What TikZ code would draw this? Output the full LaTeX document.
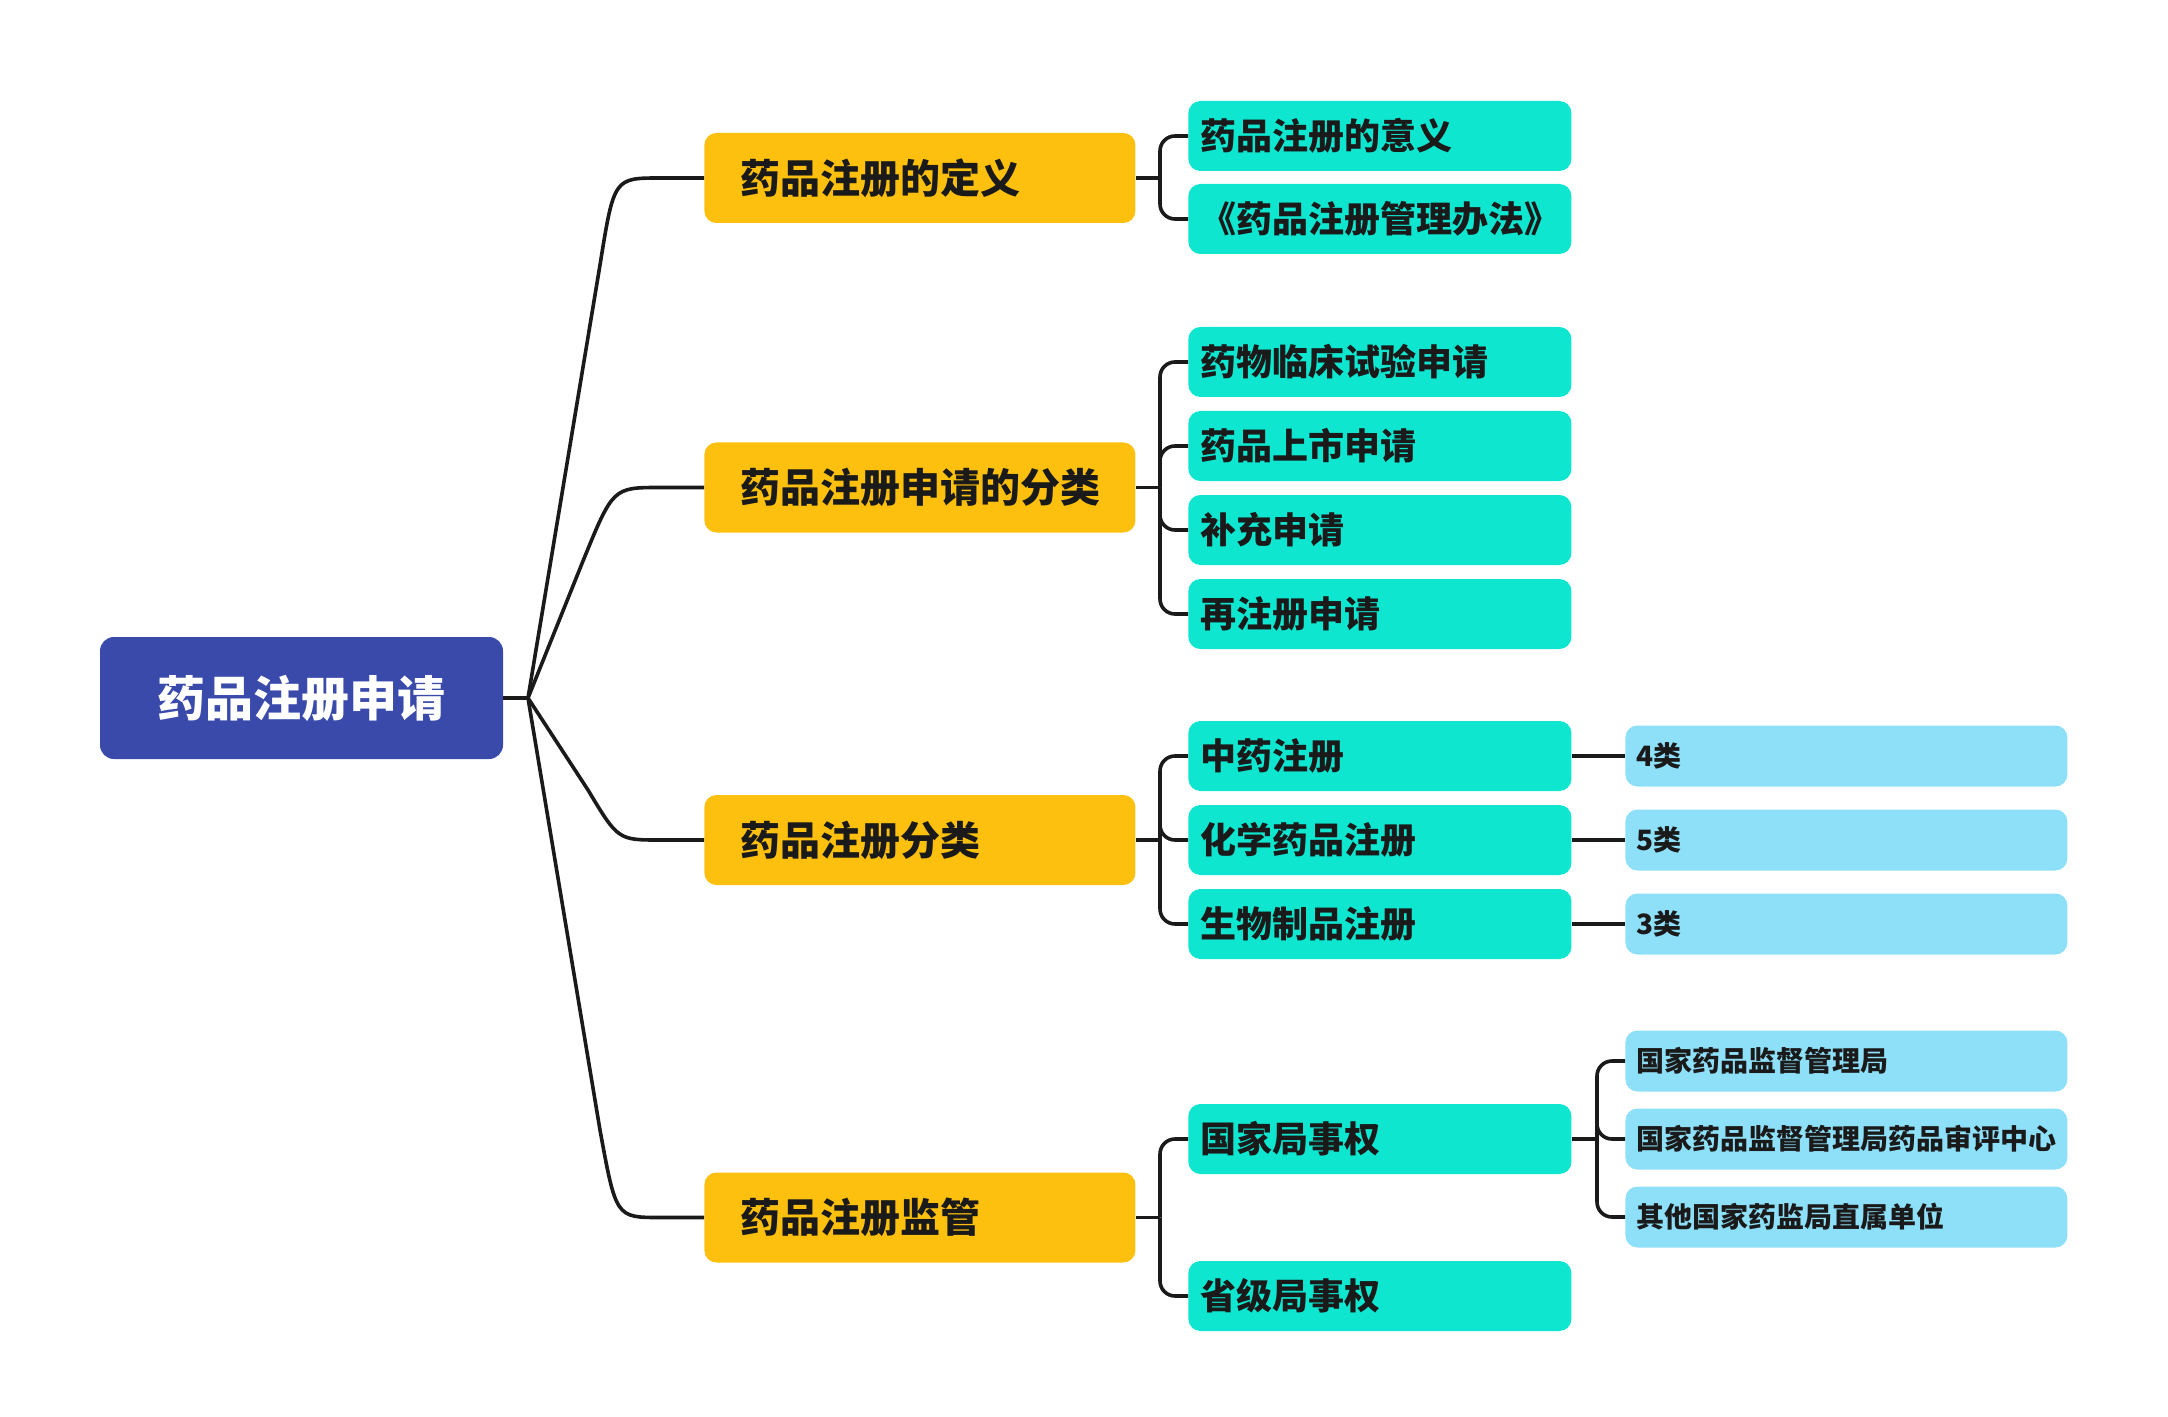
\documentclass[tikz,border=0pt]{standalone}
\usepackage{fontspec}
\setmainfont{Noto Sans CJK SC}
\definecolor{rootblue}{HTML}{3A4AAB}
\definecolor{orangebox}{HTML}{FDC00E}
\definecolor{cyanbox}{HTML}{0EE6D0}
\definecolor{lightbox}{HTML}{8EDFF8}
\definecolor{ink}{HTML}{1A1A1A}
\begin{document}
\begin{tikzpicture}[x=0.5pt,y=-0.5pt,
  rootbox/.style={fill=rootblue,rounded corners=7pt,minimum width=201.5pt,minimum height=61pt,
    inner sep=0pt,text=white,font=\bfseries\fontsize{24pt}{28pt}\selectfont},
  lone/.style={fill=orangebox,rounded corners=6pt,anchor=west,minimum height=45pt,
    inner xsep=18pt,inner ysep=0pt,text width=179.5pt,align=left,text=ink,
    font=\bfseries\fontsize{20pt}{24pt}\selectfont},
  ltwo/.style={fill=cyanbox,rounded corners=6pt,anchor=west,minimum height=35pt,
    inner xsep=6pt,inner ysep=0pt,text width=179.5pt,align=left,text=ink,
    font=\bfseries\fontsize{18pt}{22pt}\selectfont},
  lthree/.style={fill=lightbox,rounded corners=6pt,anchor=west,minimum height=30.5pt,
    inner xsep=5.5pt,inner ysep=0pt,text width=210pt,align=left,text=ink,
    font=\bfseries\fontsize{14pt}{17pt}\selectfont},
  link/.style={draw=ink,line width=1.8pt},
  bus/.style={draw=ink,line width=1.8pt,rounded corners=7.5pt}
]
\useasboundingbox (0,0) rectangle (2168,1417);

% root
\node[rootbox] (root) at (301.5,698) {药品注册申请};
\coordinate (J) at (528,698);

% level 1
\node[lone] (o1) at (704,178) {药品注册的定义};
\node[lone] (o2) at (704,487.5) {药品注册申请的分类};
\node[lone] (o3) at (704,840) {药品注册分类};
\node[lone] (o4) at (704,1217.5) {药品注册监管};

% level 2
\node[ltwo] (c1) at (1188,136) {药品注册的意义};
\node[ltwo] (c2) at (1188,219) {《药品注册管理办法》};
\node[ltwo] (c3) at (1188,362) {药物临床试验申请};
\node[ltwo] (c4) at (1188,446) {药品上市申请};
\node[ltwo] (c5) at (1188,530) {补充申请};
\node[ltwo] (c6) at (1188,614) {再注册申请};
\node[ltwo] (c7) at (1188,756) {中药注册};
\node[ltwo] (c8) at (1188,840) {化学药品注册};
\node[ltwo] (c9) at (1188,924) {生物制品注册};
\node[ltwo] (c10) at (1188,1139) {国家局事权};
\node[ltwo] (c11) at (1188,1296) {省级局事权};

% level 3
\node[lthree] (p1) at (1625,756) {4类};
\node[lthree] (p2) at (1625,840) {5类};
\node[lthree] (p3) at (1625,924) {3类};
\node[lthree] (p4) at (1625,1061) {国家药品监督管理局};
\node[lthree] (p5) at (1625,1139) {国家药品监督管理局药品审评中心};
\node[lthree] (p6) at (1625,1217) {其他国家药监局直属单位};

% root connectors
\draw[link] (root.east) -- (J);
\draw[link] (J) -- (600,265) .. controls (614,178) .. (660,178) -- (o1.west);
\draw[link] (J) -- (583,561) .. controls (613,487.5) .. (660,487.5) -- (o2.west);
\draw[link] (J) -- (588,790) .. controls (618,840) .. (660,840) -- (o3.west);
\draw[link] (J) -- (600,1130) .. controls (616,1217.5) .. (660,1217.5) -- (o4.west);

% level-1 buses
\coordinate (b1) at (1160,178);
\coordinate (b2) at (1160,487.5);
\coordinate (b3) at (1160,840);
\coordinate (b4) at (1160,1217.5);
\draw[link] (o1.east) -- (b1);
\draw[link] (o2.east) -- (b2);
\draw[link] (o3.east) -- (b3);
\draw[link] (o4.east) -- (b4);
\foreach \c in {c1,c2} \draw[bus] (b1) |- (\c.west);
\foreach \c in {c3,c4,c5,c6} \draw[bus] (b2) |- (\c.west);
\foreach \c in {c7,c8,c9} \draw[bus] (b3) |- (\c.west);
\foreach \c in {c10,c11} \draw[bus] (b4) |- (\c.west);

% level-2 to level-3
\draw[link] (c7.east) -- (p1.west);
\draw[link] (c8.east) -- (p2.west);
\draw[link] (c9.east) -- (p3.west);
\coordinate (b5) at (1597,1139);
\draw[link] (c10.east) -- (b5);
\foreach \c in {p4,p5,p6} \draw[bus] (b5) |- (\c.west);
\end{tikzpicture}
\end{document}
